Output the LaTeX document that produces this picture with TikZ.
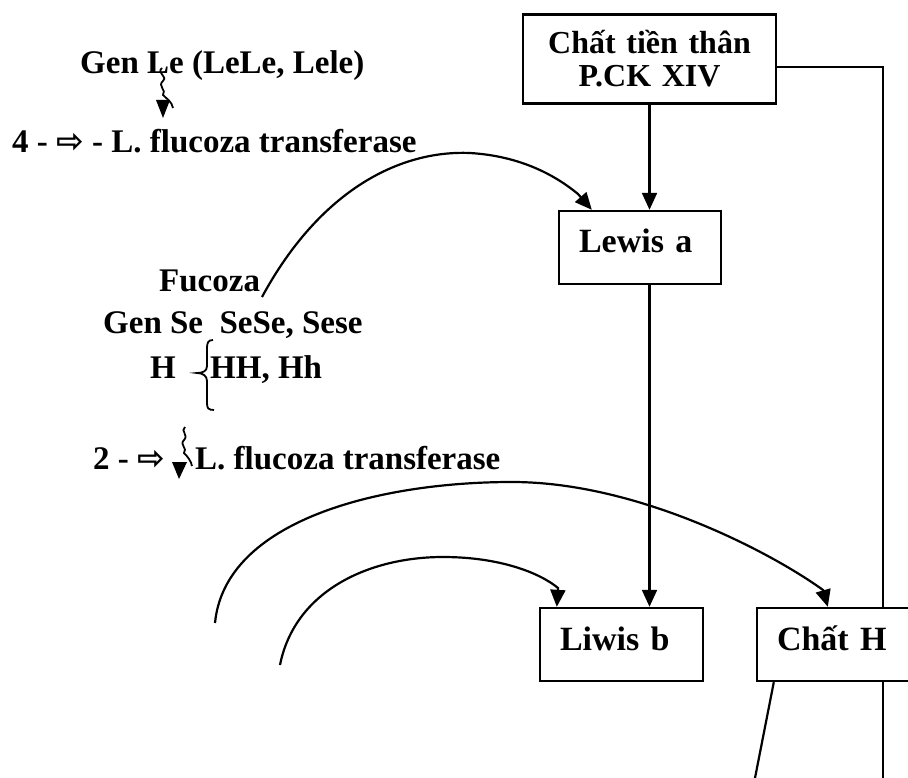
\documentclass[tikz,border=0pt]{standalone}
\usepackage{fontspec}
\setmainfont{Liberation Serif}
\newfontfamily\arrowfont{DejaVu Sans}
\usetikzlibrary{arrows.meta,calc}

\begin{document}
\begin{tikzpicture}[x=1pt,y=-1pt,
  every node/.style={font=\fontsize{33}{33}\selectfont\bfseries, inner sep=0pt},
  txt/.style={anchor=base west},
  boxnode/.style={draw, line width=2.4pt, fill=white, minimum height=73pt,
    inner xsep=20pt},
  oneline/.style={align=left, text height=23pt, text depth=12pt,
    font=\fontsize{34}{34}\selectfont\bfseries},
  link/.style={line width=2.2pt},
  tip/.style={-{Triangle[length=17pt,width=15pt]}},
  squig/.style={line width=1.8pt}
]
\clip (0,0) rectangle (908,778);

% boxes
\node[boxnode, text width=213pt, align=center, minimum height=89pt,
      font=\fontsize{32}{33}\selectfont\bfseries] (top) at (649.5,59)
      {Chất tiền thân\\P.CK XIV};
\node[boxnode, oneline, text width=122pt] (la) at (640,247.5) {Lewis a};
\node[boxnode, oneline, text width=123pt] (lb) at (621.5,644.5) {Liwis b};
\node[boxnode, oneline, text width=150pt] (ch) at (852,644.5) {Chất H};

% free ends
\coordinate (rb) at (883,778);
\coordinate (lo) at (755,778);
\coordinate (f1) at (262,297);
\coordinate (a1) at (215,623);
\coordinate (a2) at (280,665);

% straight connectors
\draw[link,tip] (top.south) -- (top.south |- la.north);
\draw[link,tip] (la.south -| top.south) -- (top.south |- lb.north);
\draw[link] ($(top.east)+(0,8)$) -| (ch.north -| rb);
\draw[link] (ch.south -| rb) -- (rb);
\draw[link] ($(ch.south west)+(18,0)$) -- (lo);

% curved connectors
\draw[link,tip] (f1) .. controls (320,190) and (400,150) .. (470,153)
  .. controls (520,156) and (555,175) .. (578,194)
  -- ($(la.north west)+(34,0)$);
\draw[link,tip] (a1) .. controls (225,520) and (380,482) .. (512,482)
  .. controls (640,482) and (775,555) .. (823,590)
  -- ($(ch.north west)+(72,0)$);
\draw[link,tip] (a2) .. controls (295,590) and (370,557) .. (443,557)
  .. controls (500,557) and (540,573) .. (558,588)
  -- ($(lb.north west)+(18,0)$);

% texts on the left
\node[txt] (genle) at (80,74) {Gen Le (LeLe, Lele)};
\node[txt] (fl4) at (12,153) {4 - {\arrowfont ⇨} - L. flucoza transferase};
\node[txt] (fuc) at (159,291) {Fucoza};
\node[txt] (gse) at (103,333) {Gen Se\ \ SeSe, Sese};
\node[txt] (hh) at (150,378) {H};
\node[txt] (hhh) at (210,378) {HH, Hh};
\node[txt] (fl2a) at (93,469) {2 - {\arrowfont ⇨}};
\node[txt] (fl2b) at (195,469) {L. flucoza transferase};

% brace
\draw[line width=1.8pt] (213,340) .. controls (208,340) and (207,343) .. (207,348)
  -- (207,366) .. controls (207,371) and (203,373) .. (197,373)
  .. controls (203,373) and (207,376) .. (207,381)
  -- (207,403) .. controls (207,408) and (208,410) .. (214,410);

% wavy arrows
\draw[squig] (162,68) .. controls (156,73) and (168,76) .. (163,81)
  .. controls (157,86) and (167,90) .. (163,95)
  .. controls (167,99) and (172,102) .. (173,108);
\fill (156,100) -- (170,100) -- (163,118) -- cycle;
\draw[squig] (185,427) .. controls (180,431) and (189,435) .. (184,440)
  .. controls (179,445) and (188,448) .. (184,453)
  .. controls (188,457) and (191,461) .. (192,466);
\fill (172,462) -- (187,462) -- (179,479) -- cycle;
\end{tikzpicture}
\end{document}
